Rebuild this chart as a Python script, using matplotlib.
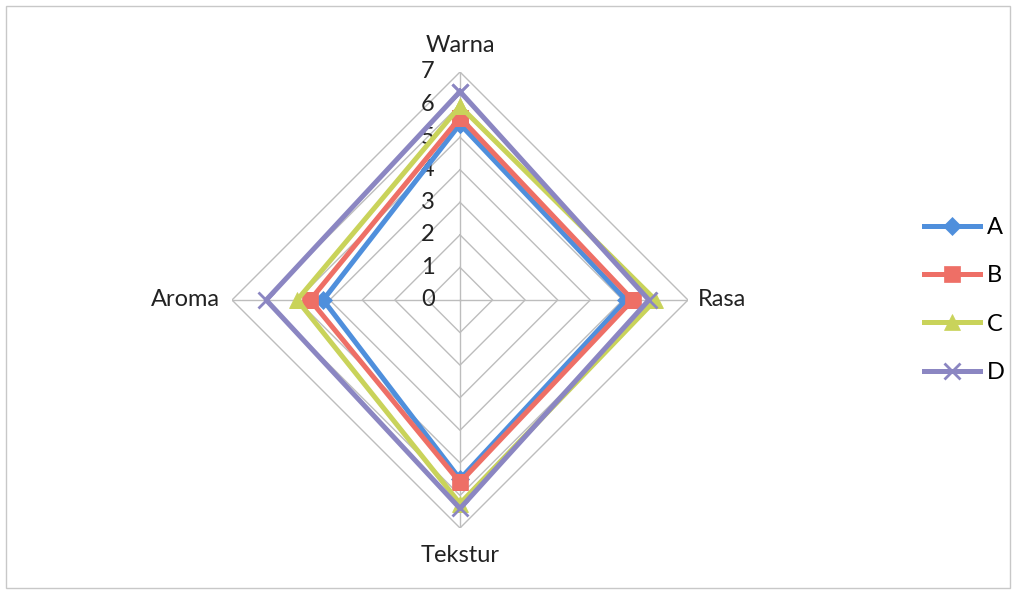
import numpy as np
import matplotlib.pyplot as plt
from matplotlib.patches import Rectangle

# radar categories, clockwise from the top
categories = ["Warna", "Rasa", "Tekstur", "Aroma"]
series_names = ["A", "B", "C", "D"]
values_a = [5.4, 5.1, 5.5, 4.2]
values_b = [5.6, 5.3, 5.6, 4.6]
values_c = [5.95, 6.0, 6.25, 5.0]
values_d = [6.4, 5.8, 6.4, 5.95]
scale_ticks = [0, 1, 2, 3, 4, 5, 6, 7]

colors = ["#4f8fdc", "#ee6f66", "#c9d35a", "#8b86c2"]
markers = ["D", "s", "^", "x"]
msizes = [9, 11, 12, 12]

plt.rcParams['font.family'] = ['Lato', 'DejaVu Sans']
FS = 17

fig = plt.figure(figsize=(10.16, 5.93), dpi=100)
fig.patches.append(Rectangle((0.006, 0.008), 0.988, 0.982, transform=fig.transFigure,
                             fill=False, edgecolor="#c8c8c8", linewidth=1))

cx, cy, rad = 460, 593 - 300, 228
ax = fig.add_axes([(cx - rad) / 1016, (cy - rad) / 593, 2 * rad / 1016, 2 * rad / 593],
                  projection="polar")
ax.set_theta_zero_location("N")
ax.set_theta_direction(-1)
ax.set_ylim(0, 7)
ax.spines["polar"].set_visible(False)
ax.grid(False)
ax.set_xticks([])
ax.set_yticks([])
ax.patch.set_alpha(0)

n = len(categories)
angles = np.linspace(0, 2 * np.pi, n, endpoint=False)
closed = np.concatenate([angles, angles[:1]])

# polygon grid and spokes
for r in scale_ticks[1:]:
    ax.plot(closed, [r] * (n + 1), color="#bdbdbd", linewidth=1, zorder=1)
for a in angles:
    ax.plot([a, a], [0, 7], color="#bdbdbd", linewidth=1, zorder=1)

# scale labels along the vertical axis
for r in scale_ticks:
    ax.annotate(str(r), xy=(0, r), xytext=(-23, 0), textcoords="offset points",
                ha="center", va="center", fontsize=FS, color="#222222")

# category labels
label_offsets = [(0, 19), (7, 0), (0, -19.5), (-9, 0)]
label_ha = ["center", "left", "center", "right"]
for a, lab, off, ha in zip(angles, categories, label_offsets, label_ha):
    ax.annotate(lab, xy=(a, 7), xytext=off, textcoords="offset points",
                ha=ha, va="center", fontsize=FS, color="#222222")

all_vals = [values_a, values_b, values_c, values_d]
handles = []
for name, vals, c, m, ms in zip(series_names, all_vals, colors, markers, msizes):
    v = list(vals) + [vals[0]]
    h, = ax.plot(closed, v, color=c, linewidth=3.6, marker=m, markersize=ms,
                 markeredgewidth=2 if m == "x" else 0.5, markeredgecolor=c,
                 label=name, zorder=3)
    handles.append(h)

fig.legend(handles=handles, loc="center left", bbox_to_anchor=(0.909, 0.494),
           frameon=False, fontsize=FS, handlelength=2.4, handletextpad=0.3,
           labelspacing=1.15, borderpad=0, borderaxespad=0)

fig.savefig("out.png", dpi=100)
